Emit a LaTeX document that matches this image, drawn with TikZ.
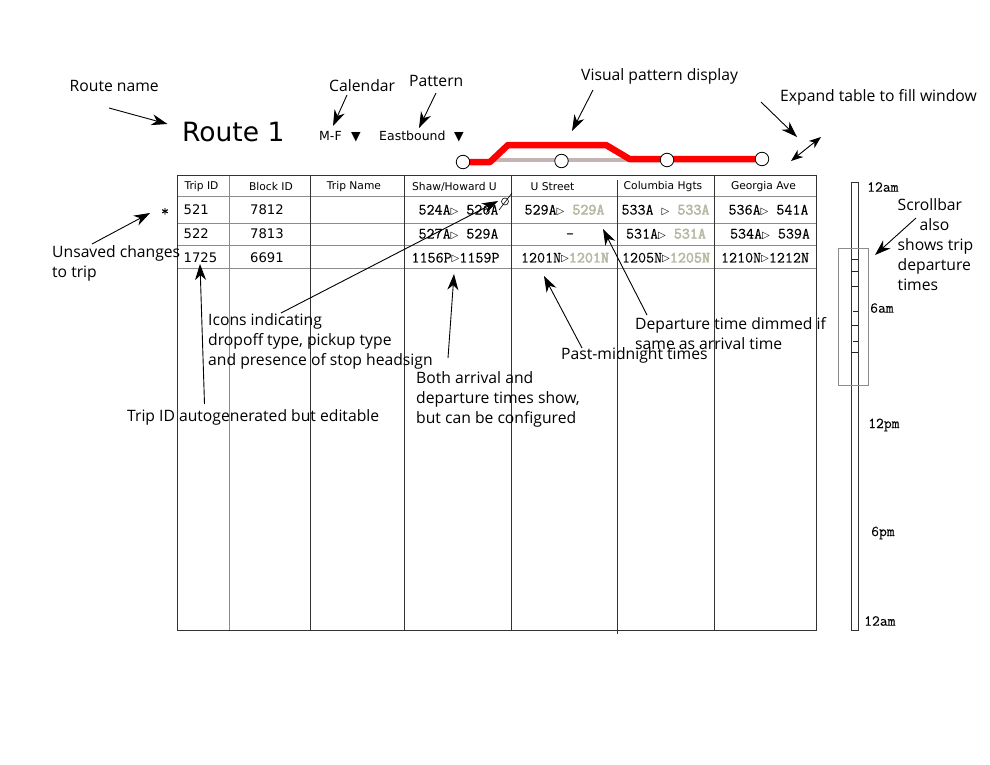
\documentclass[tikz,border=0pt]{standalone}
\usepackage{fontspec}
\setmainfont{DejaVu Sans}
\setmonofont[FakeBold=0.15]{Latin Modern Mono}
\newfontfamily\lblfont{Open Sans}
\newfontfamily\dimfont[FakeBold=3]{Latin Modern Mono}
\newfontfamily\trifont{DejaVu Sans}
\usetikzlibrary{arrows.meta}
\definecolor{dim}{HTML}{B8B8A4}
\definecolor{gline}{HTML}{8C8C8C}
\definecolor{patgray}{HTML}{C4B4B4}
\tikzset{
 lbl/.style={font=\lblfont\fontsize{15.7}{20}\selectfont,anchor=west,inner sep=0pt,align=left},
 ctl/.style={font=\fontsize{12.5}{14}\selectfont,anchor=west,inner sep=0pt},
 hdr/.style={font=\fontsize{10.7}{12}\selectfont,inner sep=0pt},
 idcell/.style={font=\fontsize{13.2}{14}\selectfont,inner sep=0pt,anchor=west},
 cell/.style={font=\ttfamily\fontsize{15.6}{16}\selectfont,inner sep=0pt},
 tick/.style={font=\ttfamily\fontsize{15.2}{16}\selectfont,inner sep=0pt,anchor=west},
 callout/.style={draw=black,line width=0.9pt,-{Stealth[length=16pt,width=11pt,inset=5pt]}},
 tline/.style={draw=black!80,line width=0.9pt},
 iline/.style={draw=gline,line width=0.8pt},
 stop/.style={circle,draw=black,fill=white,line width=0.8pt,minimum size=13.5pt,inner sep=0pt},
}
\newcommand{\dimt}[1]{\textcolor{dim}{\dimfont #1}}
\newcommand{\trn}{\raisebox{0.5pt}{\trifont\fontsize{10}{10}\selectfont ▷}}
\begin{document}
\begin{tikzpicture}[x=1pt,y=-1pt]
\useasboundingbox (0,0) rectangle (990,765);
% labels
\node[lbl] (routename) at (69.5,85.5) {Route name};
\node[lbl] (calendar) at (329,85.5) {Calendar};
\node[lbl] (pattern) at (409,80.5) {Pattern};
\node[lbl] (visual) at (581,76) {Visual pattern display};
\node[lbl] (expand) at (780,97.5) {Expand table to fill window};
\node[anchor=west,inner sep=0pt,font=\fontsize{26.5}{30}\selectfont] (title) at (182,132) {Route 1};
\node[ctl] (mf) at (319,136) {M-F};
\node[inner sep=0pt,font=\fontsize{12.5}{13}\selectfont] (mfa) at (356,137) {▼};
\node[ctl] (eb) at (379,136) {Eastbound};
\node[inner sep=0pt,font=\fontsize{12.5}{13}\selectfont] (eba) at (459,137) {▼};
% pattern
\coordinate (p0) at (463,162); \coordinate (p1) at (490,162); \coordinate (p2) at (508,145);
\coordinate (p3) at (606,145); \coordinate (p4) at (629.5,159); \coordinate (p5) at (762,159);
\coordinate (g1) at (495,160); \coordinate (g2) at (630,160);
\draw[patgray,line width=3.6pt] (g1) -- (g2);
\draw[red,line width=6.5pt,line join=round] (p0) -- (p1) -- (p2) -- (p3) -- (p4) -- (p5);
\node[stop] (s1) at (p0) {};
\node[stop] (s2) at (561.5,161) {};
\node[stop] (s3) at (667,160) {};
\node[stop] (s4) at (p5) {};
% table
\draw[iline] (177,196) -- (816,196) (177,223) -- (816,223) (177,245) -- (816,245) (177,268) -- (816,268);
\draw[iline] (229,175) -- (229,630);
\draw[tline] (310,175) -- (310,630) (404,175) -- (404,630) (511,175) -- (511,630) (714,175) -- (714,630);
\draw[tline] (617,180) -- (617,634);
\draw[tline] (177,175) rectangle (816,630);
% headers
\node[hdr] (h1) at (201.5,187) {Trip ID};
\node[hdr] (h2) at (271,187) {Block ID};
\node[hdr] (h3) at (354,187) {Trip Name};
\node[hdr] (h4) at (454.5,187) {Shaw/Howard U};
\node[hdr] (h5) at (552.5,187) {U Street};
\node[hdr] (h6) at (663,187) {Columbia Hgts};
\node[hdr] (h7) at (763.5,187) {Georgia Ave};
% rows
\node[idcell] (a1) at (183.5,210) {521};
\node[idcell] (b1) at (250,210) {7812};
\node[idcell] (a2) at (183.5,234) {522};
\node[idcell] (b2) at (250,234) {7813};
\node[idcell] (a3) at (183.5,258) {1725};
\node[idcell] (b3) at (250,258) {6691};
\node[cell] (c11) at (458.5,210) {524A\trn{} 526A};
\node[cell] (c21) at (458.5,234) {527A\trn{} 529A};
\node[cell] (c31) at (455.5,258) {1156P\trn{}1159P};
\node[cell] (c12) at (564.5,210) {529A\trn{} \dimt{529A}};
\node[cell] (c22) at (570,236) {-};
\node[cell] (c32) at (565,258) {1201N\trn{}\dimt{1201N}};
\node[cell] (c13) at (665.5,210) {533A \trn{} \dimt{533A}};
\node[cell] (c23) at (666,234) {531A\trn{} \dimt{531A}};
\node[cell] (c33) at (666,258) {1205N\trn{}\dimt{1205N}};
\node[cell] (c14) at (768.5,210) {536A\trn{} 541A};
\node[cell] (c24) at (770,234) {534A\trn{} 539A};
\node[cell] (c34) at (765,258) {1210N\trn{}1212N};
% icon
\node[circle,draw=black,line width=0.6pt,minimum size=7pt,inner sep=0pt] (icon) at (505,201.5) {};
\coordinate (icA) at (499,210); \coordinate (icB) at (512,193);
\draw[line width=0.6pt] (icA) -- (icB);
% star
\node[cell] (star) at (165,212) {*};
% scrollbar
\draw[tline] (851,182) rectangle (858,630);
\foreach \y/\xa in {259/851,271/851,286/851,311/853,325/851,341/853,352/851}{\draw[line width=0.7pt,black!85] (\xa,\y) -- (858,\y);}
\draw[draw=gline,line width=0.9pt] (838.5,248) rectangle (868.5,385);
\node[tick] (t1) at (867,187) {12am};
\node[tick] (t2) at (870,308) {6am};
\node[tick] (t3) at (868,425) {12pm};
\node[tick] (t4) at (871,533) {6pm};
\node[tick] (t5) at (864,621) {12am};
% other labels
\node[lbl] (scroll) at (897.5,245) {Scrollbar\\\hspace*{22pt}also\\shows trip\\departure\\times};
\node[lbl] (unsaved) at (52,263) {Unsaved changes\\to trip};
\node[lbl] (icons) at (208,341) {Icons indicating\\dropoff type, pickup type\\and presence of stop headsign};
\node[lbl] (both) at (416,399) {Both arrival and\\departure times show,\\but can be configured};
\node[lbl] (autogen) at (127,417) {Trip ID autogenerated but editable};
\node[lbl] (past) at (561,355) {Past-midnight times};
\node[lbl] (dimmed) at (635,333.5) {Departure time dimmed if\\same as arrival time};
% connectors
\coordinate (f1) at (109,108); \coordinate (t1a) at (167.5,124);
\coordinate (f2) at (347,95); \coordinate (t2a) at (333,126);
\coordinate (f3) at (436,93); \coordinate (t3a) at (419,128);
\coordinate (f4) at (593,90); \coordinate (t4a) at (572,131);
\coordinate (f5) at (761,102); \coordinate (t5a) at (797,137);
\coordinate (e1) at (791,161); \coordinate (e2) at (821,137);
\coordinate (f6) at (92,244); \coordinate (t6a) at (150,213);
\coordinate (f7) at (204.5,404); \coordinate (t7a) at (200,264);
\coordinate (f8) at (281,313); \coordinate (t8a) at (498,201);
\coordinate (f9) at (448,358); \coordinate (t9a) at (454,274);
\coordinate (f10) at (582,348); \coordinate (t10a) at (544,276);
\coordinate (f11) at (647,315); \coordinate (t11a) at (603,229);
\coordinate (f12) at (916,218); \coordinate (t12a) at (875,255);
\draw[callout] (f1) -- (t1a);
\draw[callout] (f2) -- (t2a);
\draw[callout] (f3) -- (t3a);
\draw[callout] (f4) -- (t4a);
\draw[callout] (f5) -- (t5a);
\draw[line width=0.9pt,{Stealth[length=12pt,width=9pt,inset=3.5pt]}-{Stealth[length=12pt,width=9pt,inset=3.5pt]}] (e1) -- (e2);
\draw[callout] (f6) -- (t6a);
\draw[callout] (f7) -- (t7a);
\draw[callout] (f8) -- (t8a);
\draw[callout] (f9) -- (t9a);
\draw[callout] (f10) -- (t10a);
\draw[callout] (f11) -- (t11a);
\draw[callout] (f12) -- (t12a);
\end{tikzpicture}
\end{document}
